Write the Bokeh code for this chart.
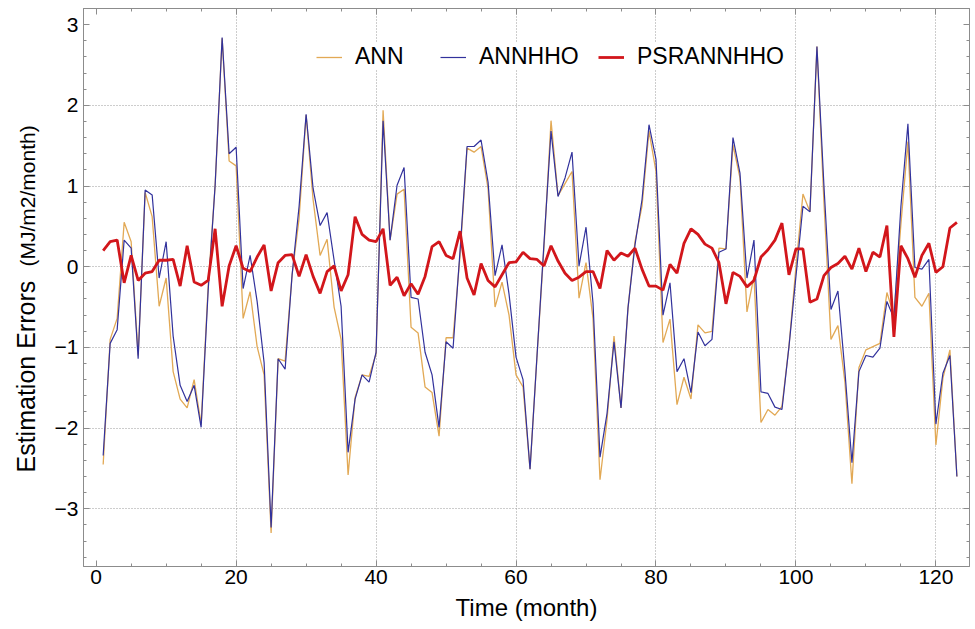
import math
from bokeh.plotting import figure
from bokeh.models import (Range1d, SingleIntervalTicker, FixedTicker, LinearAxis, Legend, LegendItem,
                          Label, CustomJSTickFormatter, ColumnDataSource)
from bokeh.embed import file_html
from bokeh.resources import INLINE

months = list(range(1, 124))

ann = [-2.45, -0.90, -0.64, 0.55, 0.31, -1.10, 0.92, 0.62, -0.49, -0.14,
       -1.30, -1.64, -1.75, -1.40, -1.95, -0.25, 1.01, 2.83, 1.31, 1.25,
       -0.64, -0.31, -0.99, -1.34, -3.30, -1.14, -1.17, -0.10, 0.60, 1.88,
       0.83, 0.14, 0.34, -0.50, -0.90, -2.58, -1.62, -1.34, -1.36, -1.08,
       1.94, 0.33, 0.90, 0.96, -0.75, -0.82, -1.49, -1.56, -2.10, -0.88,
       -0.88, 0.14, 1.47, 1.42, 1.49, 0.97, -0.50, -0.19, -0.60, -1.34,
       -1.49, -2.51, -1.10, 0.25, 1.81, 0.88, 1.03, 1.18, -0.39, 0.05,
       -0.64, -2.64, -1.90, -0.86, -1.75, -0.51, 0.31, 0.75, 1.68, 1.18,
       -0.94, -0.65, -1.71, -1.37, -1.64, -0.72, -0.82, -0.80, 0.23, 0.22,
       1.51, 1.10, -0.56, -0.12, -1.93, -1.77, -1.84, -1.73, -0.99, 0.00,
       0.90, 0.68, 2.73, 0.80, -0.90, -0.73, -1.43, -2.69, -1.25, -1.03,
       -0.99, -0.95, -0.32, -0.60, 0.53, 1.55, -0.38, -0.49, -0.33, -2.21,
       -1.38, -1.03, -2.60]

annhho = [-2.34, -0.95, -0.78, 0.33, 0.23, -1.14, 0.95, 0.89, -0.14, 0.31,
          -0.86, -1.47, -1.67, -1.47, -1.99, -0.30, 1.01, 2.84, 1.40, 1.48,
          -0.27, 0.14, -0.43, -1.19, -3.23, -1.14, -1.27, -0.10, 0.75, 1.89,
          0.97, 0.51, 0.67, 0.08, -0.49, -2.30, -1.64, -1.34, -1.43, -1.06,
          1.81, 0.33, 1.01, 1.23, -0.38, -0.40, -1.06, -1.34, -1.99, -0.93,
          -1.01, 0.20, 1.49, 1.49, 1.57, 1.05, -0.11, 0.27, -0.34, -1.12,
          -1.40, -2.51, -1.10, 0.30, 1.68, 0.87, 1.10, 1.42, 0.01, 0.49,
          -0.45, -2.36, -1.82, -0.93, -1.75, -0.51, 0.27, 0.83, 1.76, 1.33,
          -0.60, -0.20, -1.30, -1.14, -1.56, -0.81, -0.98, -0.90, 0.18, 0.22,
          1.60, 1.16, -0.14, 0.33, -1.55, -1.57, -1.74, -1.77, -0.99, -0.12,
          0.75, 0.68, 2.73, 1.00, -0.53, -0.30, -1.30, -2.43, -1.30, -1.10,
          -1.12, -1.01, -0.43, -0.64, 0.75, 1.77, -0.01, -0.03, 0.09, -1.95,
          -1.32, -1.10, -2.60]

psrannhho = [0.20, 0.31, 0.33, -0.20, 0.14, -0.17, -0.08, -0.06, 0.08, 0.08,
             0.09, -0.24, 0.26, -0.19, -0.23, -0.17, 0.47, -0.49, 0.01, 0.26,
             -0.02, -0.06, 0.12, 0.27, -0.30, 0.05, 0.14, 0.15, -0.12, 0.15,
             -0.12, -0.33, -0.06, 0.01, -0.30, -0.10, 0.62, 0.40, 0.33, 0.31,
             0.47, -0.23, -0.13, -0.36, -0.21, -0.34, -0.12, 0.25, 0.31, 0.14,
             0.10, 0.44, -0.14, -0.35, 0.04, -0.17, -0.25, -0.10, 0.05, 0.06,
             0.18, 0.10, 0.09, 0.01, 0.26, 0.07, -0.08, -0.17, -0.13, -0.06,
             -0.06, -0.27, 0.20, 0.08, 0.17, 0.13, 0.23, -0.03, -0.24, -0.24,
             -0.29, 0.03, -0.08, 0.29, 0.47, 0.40, 0.28, 0.23, 0.05, -0.46,
             -0.07, -0.12, -0.25, -0.17, 0.12, 0.21, 0.33, 0.54, -0.10, 0.22,
             0.22, -0.44, -0.40, -0.11, -0.01, 0.04, 0.13, -0.03, 0.23, -0.06,
             0.18, 0.12, 0.51, -0.87, 0.26, 0.10, -0.13, 0.14, 0.29, -0.07,
             0.00, 0.48, 0.55]

series_names = ["ANN", "ANNHHO", "PSRANNHHO"]
x_ticks = [0, 20, 40, 60, 80, 100, 120]
y_ticks = [-3, -2, -1, 0, 1, 2, 3]

FONT = "Liberation Sans"
GRAY = "#8c8c8c"

p = figure(width=975, height=629, output_backend="svg", toolbar_location=None,
           x_range=Range1d(-1.81, 124.8), y_range=Range1d(-3.715, 3.20),
           min_border_left=78, min_border_right=6, min_border_top=8, min_border_bottom=63)
p.background_fill_color = "white"
p.border_fill_color = "white"
p.outline_line_color = GRAY
p.outline_line_width = 1

src = ColumnDataSource(dict(x=months, ann=ann, annhho=annhho, psr=psrannhho))
r1 = p.line("x", "ann", source=src, line_color="#E2A955", line_width=1.3)
r2 = p.line("x", "annhho", source=src, line_color="#32329C", line_width=1.2)
r3 = p.line("x", "psr", source=src, line_color="#D2161B", line_width=2.8)

xt = SingleIntervalTicker(interval=20, num_minor_ticks=4)
yt = SingleIntervalTicker(interval=1, num_minor_ticks=5)
fmt = CustomJSTickFormatter(code="return tick < 0 ? '\u2212' + (-tick) : '' + tick;")
blank = CustomJSTickFormatter(code="return '';")

def style_axis(ax, show_labels=True):
    ax.axis_line_color = GRAY
    ax.major_tick_line_color = GRAY
    ax.minor_tick_line_color = GRAY
    ax.major_tick_in = 6
    ax.major_tick_out = 0
    ax.minor_tick_in = 3
    ax.minor_tick_out = 0
    if show_labels:
        ax.major_label_text_font = FONT
        ax.major_label_text_font_size = "21px"
        ax.major_label_text_color = "black"
        ax.major_label_standoff = 5
    else:
        ax.formatter = blank
        ax.major_label_standoff = 0

p.xaxis.ticker = xt
p.yaxis.ticker = yt
p.yaxis.formatter = fmt
style_axis(p.xaxis[0])
style_axis(p.yaxis[0])
p.xaxis.major_label_standoff = 3
p.xaxis.axis_label = "Time (month)"
p.xaxis.axis_label_text_font = FONT
p.xaxis.axis_label_text_font_size = "24px"
p.xaxis.axis_label_text_font_style = "normal"
p.xaxis.axis_label_text_color = "black"
p.xaxis.axis_label_standoff = 7

top = LinearAxis(ticker=SingleIntervalTicker(interval=20, num_minor_ticks=4))
style_axis(top, False)
p.add_layout(top, "above")
right = LinearAxis(ticker=SingleIntervalTicker(interval=1, num_minor_ticks=5))
style_axis(right, False)
p.add_layout(right, "right")

p.xgrid.ticker = FixedTicker(ticks=x_ticks[1:])
p.ygrid.ticker = FixedTicker(ticks=y_ticks[:-1])
for g in (p.xgrid[0], p.ygrid[0]):
    g.grid_line_color = "#9a9a9a"
    g.grid_line_dash = "1 2"
    g.grid_line_width = 1

# y axis label in two sizes, each in its own column of the left side panel
lab1 = Label(x=2, y=94, x_units="screen", y_units="screen", angle=math.pi / 2,
             text="Estimation Errors", text_font=FONT, text_font_size="25px",
             text_align="left", text_baseline="middle", text_color="black")
lab2 = Label(x=27, y=300, x_units="screen", y_units="screen", angle=math.pi / 2,
             text="(MJ/m2/month)", text_font=FONT, text_font_size="21px",
             text_align="left", text_baseline="middle", text_color="black")
p.add_layout(lab1, "left")
p.add_layout(lab2, "left")

# legend: one entry per box, placed along the top
for name, rend, xloc in zip(series_names, [r1, r2, r3], [233, 357, 515]):
    leg = Legend(items=[LegendItem(label=name, renderers=[rend])], location=(xloc, 496),
                 orientation="horizontal", border_line_color=None,
                 background_fill_color="white", background_fill_alpha=1.0,
                 padding=2, margin=0, spacing=0, glyph_width=26, glyph_height=20,
                 label_standoff=13, label_text_font=FONT, label_text_font_size="23px",
                 label_text_color="black")
    p.add_layout(leg)

open("out.html", "w").write(file_html(p, INLINE))
